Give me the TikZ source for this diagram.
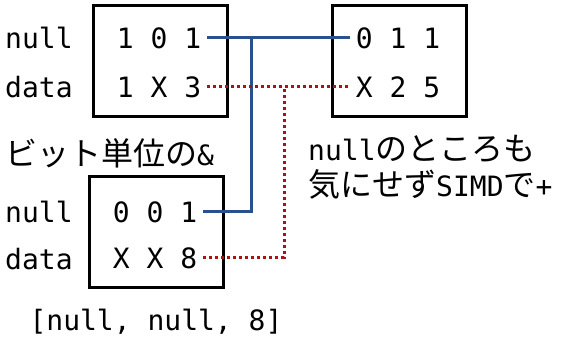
\documentclass[tikz,border=0pt]{standalone}
\usepackage{fontspec}
\setmainfont{DejaVu Sans Mono}
\newfontfamily\cjk{Noto Sans CJK JP}
\newcommand{\jp}[1]{{\cjk\fontsize{32}{36}\selectfont #1}}
\definecolor{lineblue}{HTML}{2A5090}
\definecolor{linered}{HTML}{B01010}
\tikzset{
  x=1pt, y=-1pt,
  every node/.style={font=\fontsize{28}{33}\selectfont, inner sep=0pt},
  databox/.style={draw=black, line width=3pt, minimum width=134pt, minimum height=111pt},
  rowtxt/.style={anchor=base, inner xsep=6pt},
  lbl/.style={anchor=base west},
  nullline/.style={draw=lineblue, line width=3pt},
  dataline/.style={draw=linered, line width=3pt, dash pattern=on 3pt off 3pt}
}
\begin{document}
\begin{tikzpicture}
\useasboundingbox (0,0) rectangle (567,338);
% boxes
\node[databox] (boxA) at (160,60.5) {};
\node[databox] (boxB) at (399.5,60.5) {};
\node[databox] (boxC) at (156,232) {};
% row labels
\node[lbl] (lA1) at (5,48) {null};
\node[lbl] (lA2) at (5,97) {data};
\node[lbl] (lC1) at (5,222) {null};
\node[lbl] (lC2) at (5,269) {data};
% row contents
\node[rowtxt] (a1) at (159,48) {1 0 1};
\node[rowtxt] (a2) at (159,97) {1 X 3};
\node[rowtxt] (b1) at (398,48) {0 1 1};
\node[rowtxt] (b2) at (398,97) {X 2 5};
\node[rowtxt] (c1) at (155,222) {0 0 1};
\node[rowtxt] (c2) at (155,268) {X X 8};
% captions
\node[lbl] (cap1) at (5,165) {\jp{ビット単位の}\&};
\node[lbl] (cap2) at (308,160) {null\jp{のところも}};
\node[lbl] (cap3) at (308,196) {\jp{気にせず}SIMD\jp{で}+};
\node[anchor=base] (res) at (156,330) {[null, null, 8]};
% junctions
\coordinate (jb) at (251,38);
\coordinate (jr) at (284,87);
% connectors
\draw[nullline] (a1.east) -- (b1.west);
\draw[nullline] (c1.east) -| (jb);
\draw[dataline] (a2.east) -- (b2.west);
\draw[dataline] (c2.east) -| (jr);
\end{tikzpicture}
\end{document}
